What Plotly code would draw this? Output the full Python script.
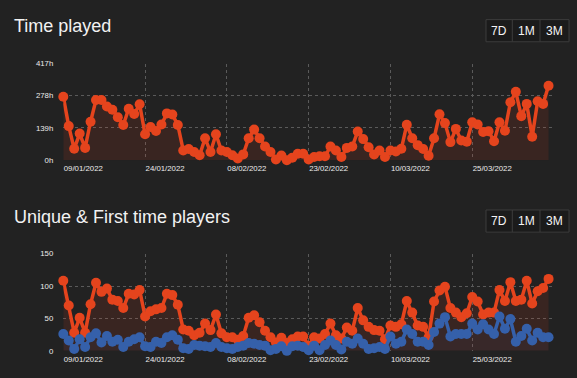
import pandas as pd
import plotly.graph_objects as go

start_date = "2022-01-09"
n_days = 90
dates = pd.date_range(start_date, periods=n_days)

time_played_h = [274,147,49,115,53,166,260,260,232,218,
                 185,152,222,199,241,112,143,126,154,202,
                 197,152,42,48,35,21,95,35,112,42,
                 35,21,7,25,95,132,95,59,35,3,
                 20,0,11,28,28,3,14,17,17,59,
                 42,14,53,59,124,91,56,25,42,14,
                 42,38,49,153,95,65,48,19,95,198,
                 160,78,135,85,80,164,154,122,125,82,
                 164,127,250,295,190,243,101,254,243,321]

unique_players = [108,70,28,51,28,72,105,91,96,79,
                  77,66,88,87,94,53,61,64,66,88,
                  86,71,33,31,24,28,42,32,56,27,
                  21,21,17,23,51,55,44,31,21,13,
                  20,12,18,22,22,8,21,19,26,42,
                  24,19,36,31,66,47,37,32,31,18,
                  39,37,41,77,59,39,37,21,76,93,
                  99,66,59,52,58,83,76,56,59,59,
                  94,77,106,77,79,108,73,92,97,111]

first_time_players = [26,16,3,18,6,21,27,13,23,14,
                      17,6,14,18,21,7,6,14,12,21,
                      24,17,4,3,9,8,7,6,12,6,
                      4,3,6,8,12,11,9,8,1,3,
                      7,0,7,8,6,1,8,1,9,16,
                      9,2,14,11,19,11,3,4,6,3,
                      22,11,14,33,26,14,14,9,29,42,
                      52,22,26,26,26,42,33,41,33,26,
                      53,34,49,14,23,34,16,28,21,21]

x_tick_dates = ["2022-01-09", "2022-01-24", "2022-02-08", "2022-02-23", "2022-03-10", "2022-03-25"]
top_tick_vals = [0, 139, 278, 417]
top_tick_text = ["0h", "139h", "278h", "417h"]
bottom_tick_vals = [0, 50, 100, 150]
bottom_tick_text = ["0", "50", "100", "150"]
range_buttons = ["7D", "1M", "3M"]
titles = ["Time played", "Unique & First time players"]

BG = "#222222"
RED = "#e5441d"
BLUE = "#3560aa"
GRID = "#5a5a5a"
TXT = "#ececec"
W, H = 577, 378

fig = go.Figure()

def line_trace(y, color, fill, xa, ya):
    return go.Scatter(
        x=dates, y=y, mode="lines+markers",
        line=dict(color=color, width=3.5),
        marker=dict(color=color, size=10),
        fill="tozeroy", fillcolor=fill,
        xaxis=xa, yaxis=ya, cliponaxis=False, showlegend=False,
        hoverinfo="x+y",
    )

fig.add_trace(line_trace(time_played_h, RED, "rgba(229,68,29,0.12)", "x", "y"))
fig.add_trace(line_trace(unique_players, RED, "rgba(229,68,29,0.12)", "x2", "y2"))
fig.add_trace(line_trace(first_time_players, BLUE, "rgba(53,96,170,0.06)", "x2", "y2"))

left, right = 63.3, 554
plot_x_dom = [left / W, right / W]

def ydom(top_px, bottom_px):
    return [1 - bottom_px / H, 1 - top_px / H]

xaxis_common = dict(
    type="date",
    range=[start_date, "2022-04-09"],
    tickvals=x_tick_dates,
    tickformat="%d/%m/%Y",
    showgrid=True, gridcolor=GRID, griddash="dot", gridwidth=1,
    zeroline=False, showline=False, ticks="",
    tickfont=dict(family="Liberation Sans, Arial", size=7.8, color=TXT),
    ticklabelshift=20, ticklabelstandoff=2,
    domain=plot_x_dom,
)
yaxis_common = dict(
    showgrid=True, gridcolor=GRID, griddash="dot", gridwidth=1,
    zeroline=False, showline=False, ticks="",
    tickfont=dict(family="Liberation Sans, Arial", size=7.8, color=TXT),
    ticklabelstandoff=9,
)

fig.update_layout(
    width=W, height=H,
    paper_bgcolor=BG, plot_bgcolor=BG,
    margin=dict(l=0, r=0, t=0, b=0),
    xaxis=dict(**xaxis_common, anchor="y"),
    yaxis=dict(**yaxis_common, range=[0, 417], tickvals=top_tick_vals, ticktext=top_tick_text,
               domain=ydom(61, 160), anchor="x"),
    xaxis2=dict(**xaxis_common, anchor="y2"),
    yaxis2=dict(**yaxis_common, range=[0, 150], tickvals=bottom_tick_vals, ticktext=bottom_tick_text,
                domain=ydom(255.7, 355.3), anchor="x2"),
    hovermode="closest",
)

shapes = []
annotations = []
for k, offset in enumerate([0, 195]):
    annotations.append(dict(
        text=titles[k], x=12 / W, y=1 - (31 + offset) / H, xref="paper", yref="paper",
        xanchor="left", yanchor="bottom", showarrow=False, yshift=-4,
        font=dict(family="Liberation Sans, Arial", size=18, color="#f2f2f2"),
    ))
    bx = [486, 512.3, 540, 569]
    y0, y1 = 16 + offset, 38.7 + offset
    shapes.append(dict(type="rect", xref="paper", yref="paper",
                       x0=bx[0] / W, x1=bx[3] / W, y0=1 - y1 / H, y1=1 - y0 / H,
                       fillcolor="#1b1b1b", line=dict(color="#3c3c3c", width=1)))
    for j in range(1, 3):
        shapes.append(dict(type="line", xref="paper", yref="paper",
                           x0=bx[j] / W, x1=bx[j] / W, y0=1 - y1 / H, y1=1 - y0 / H,
                           line=dict(color="#3c3c3c", width=1)))
    for j, lab in enumerate(range_buttons):
        annotations.append(dict(
            text=lab, x=(bx[j] + bx[j + 1]) / 2 / W, y=1 - (y0 + y1) / 2 / H,
            xref="paper", yref="paper", xanchor="center", yanchor="middle", showarrow=False,
            font=dict(family="Liberation Sans, Arial", size=12, color="#f5f5f5"),
        ))

fig.update_layout(shapes=shapes, annotations=annotations)
fig.write_html("out.html", config={"displayModeBar": False},
               post_script="document.body.style.margin='0';document.body.style.background='#222222';")
